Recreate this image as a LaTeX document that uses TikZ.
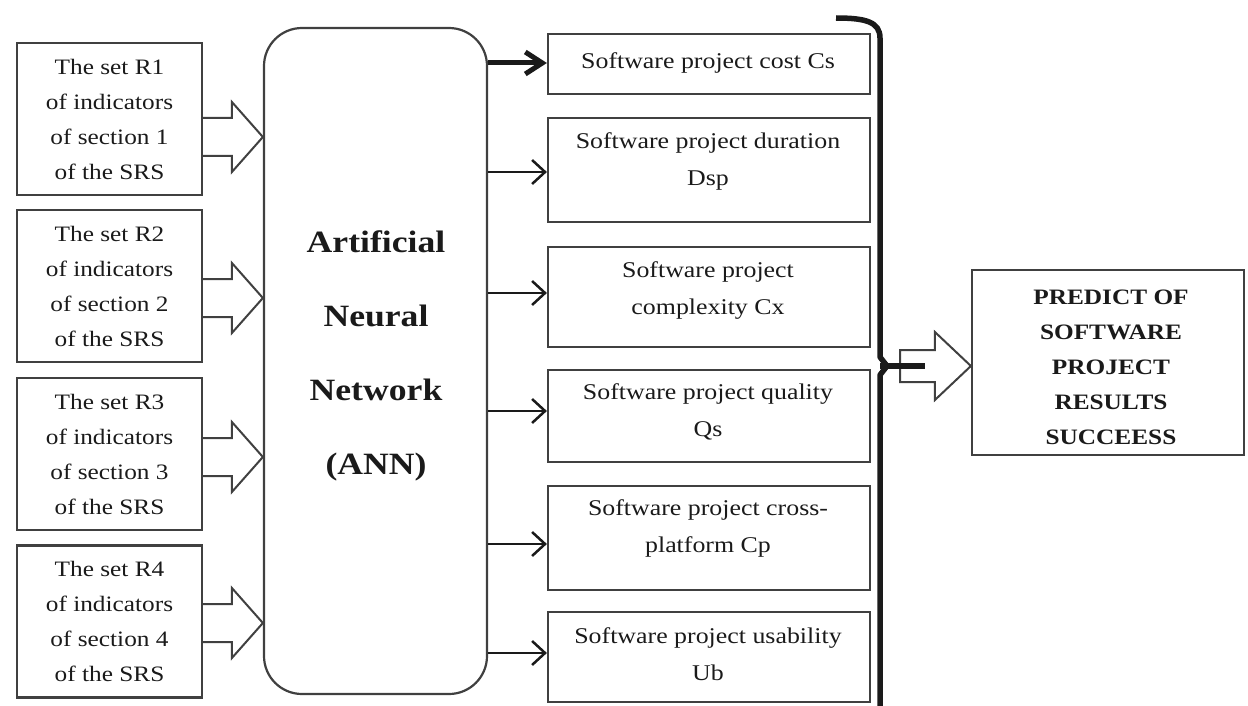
\documentclass[tikz,border=0pt]{standalone}
\usepackage{fontspec}
\setmainfont{Liberation Serif}[FakeStretch=1.15]
\usetikzlibrary{arrows.meta,calc}
\definecolor{edge}{HTML}{404040}
\definecolor{ink}{HTML}{1A1A1A}
\newcommand\lefthollow[2]{%
  \draw[harrow] let \p1=(#1.east), \p2=(ann.west |- 0,#2) in
    (\x1,{\y2+19pt}) -- ({\x2-31pt},{\y2+19pt}) -- ({\x2-31pt},{\y2+35pt}) -- (\x2,\y2)
    -- ({\x2-31pt},{\y2-35pt}) -- ({\x2-31pt},{\y2-19pt}) -- (\x1,{\y2-19pt});}
\begin{document}
\begin{tikzpicture}[x=1pt,y=-1pt,
  inbox/.style={draw=edge, line width=2.2pt, minimum width=185pt, minimum height=152pt,
    inner sep=0pt, align=center, font=\fontsize{22}{35}\selectfont, text=ink},
  midbox/.style={draw=edge, line width=2.2pt, minimum width=322pt, minimum height=#1, inner sep=0pt},
  mtext/.style={align=center, font=\fontsize{22.5}{37}\selectfont, text=ink, inner sep=0pt},
  harrow/.style={draw=edge, line width=2pt, line join=miter},
  arr/.style={draw=ink, line width=2.5pt, -{Straight Barb[length=13pt,width=24pt]}},
  thickarr/.style={draw=ink, line width=5pt, -{Straight Barb[length=17pt,width=22pt]}}]
\useasboundingbox (0,0) rectangle (1248,706);

% ANN block
\node[draw=edge, line width=2.2pt, rounded corners=38pt, minimum width=223pt,
  minimum height=666pt, inner sep=0pt] (ann) at (375.5,361) {};
\node[align=center, inner sep=0pt, text=ink, font=\bfseries\fontsize{31}{74}\selectfont]
  (annt) at (376,356) {Artificial\\Neural\\Network\\(ANN)};

% input boxes
\node[inbox] (r1) at (109.5,119) {The set R1\\of indicators\\of section 1\\of the SRS};
\node[inbox] (r2) at (109.5,286) {The set R2\\of indicators\\of section 2\\of the SRS};
\node[inbox] (r3) at (109.5,454) {The set R3\\of indicators\\of section 3\\of the SRS};
\node[inbox] (r4) at (109.5,621.5) {The set R4\\of indicators\\of section 4\\of the SRS};

\lefthollow{r1}{137}
\lefthollow{r2}{298}
\lefthollow{r3}{457}
\lefthollow{r4}{623}

% output indicator boxes
\node[midbox=60pt] (m1) at (709,64) {};
\node[midbox=104pt] (m2) at (709,170) {};
\node[midbox=100pt] (m3) at (709,297) {};
\node[midbox=92pt] (m4) at (709,416) {};
\node[midbox=104pt] (m5) at (709,538) {};
\node[midbox=90pt] (m6) at (709,657) {};
\node[mtext] (m1t) at (708,63) {Software project cost Cs};
\node[mtext] (m2t) at (708,161.5) {Software project duration\\Dsp};
\node[mtext] (m3t) at (708,290.5) {Software project\\complexity Cx};
\node[mtext] (m4t) at (708,411.5) {Software project quality\\Qs};
\node[mtext] (m5t) at (708,528.5) {Software project cross-\\platform Cp};
\node[mtext] (m6t) at (708,654.5) {Software project usability\\Ub};

\coordinate (e1) at ([yshift=1pt]m1.west);
\coordinate (e2) at ([yshift=-2pt]m2.west);
\coordinate (e3) at ([yshift=4pt]m3.west);
\coordinate (e4) at ([yshift=5pt]m4.west);
\coordinate (e5) at ([yshift=-6pt]m5.west);
\coordinate (e6) at ([yshift=4pt]m6.west);
\draw[thickarr] (ann.east |- e1) -- (e1);
\draw[arr] (ann.east |- e2) -- (e2);
\draw[arr] (ann.east |- e3) -- (e3);
\draw[arr] (ann.east |- e4) -- (e4);
\draw[arr] (ann.east |- e5) -- (e5);
\draw[arr] (ann.east |- e6) -- (e6);

% result box
\node[draw=edge, line width=2.2pt, minimum width=272pt, minimum height=185pt, inner sep=0pt]
  (out) at (1108,362.5) {};
\node[align=center, inner sep=0pt, text=ink, font=\bfseries\fontsize{22}{35}\selectfont]
  (outt) at (1111,367) {PREDICT OF\\SOFTWARE\\PROJECT\\RESULTS\\SUCCEESS};

% brace
\coordinate (bc) at (880,366);
\coordinate (bt) at (925,366);
\draw[draw=ink, line width=5.5pt, line join=round]
  (836,18) .. controls (866,18) and (880,22) .. (880,38) -- (880,357)
  -- (887,366) -- (880,375) -- (880,706);

% hollow arrow to result
\draw[harrow] let \p1=(bc), \p2=(out.west |- bc) in
  ({\x1+20pt},{\y1+16pt}) -- ({\x2-36pt},{\y1+16pt}) -- ({\x2-36pt},{\y1+34pt}) -- (\x2,\y1)
  -- ({\x2-36pt},{\y1-34pt}) -- ({\x2-36pt},{\y1-16pt}) -- ({\x1+20pt},{\y1-16pt}) -- cycle;
\draw[draw=ink, line width=6pt] (bc) -- (bt);
\end{tikzpicture}
\end{document}
